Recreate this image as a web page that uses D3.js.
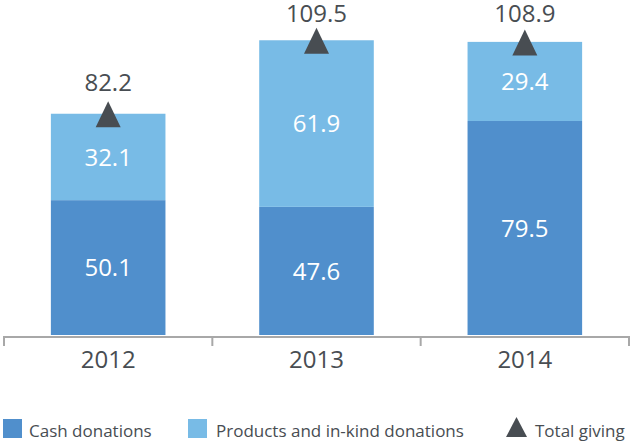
<!DOCTYPE html>
<html>
<head>
<meta charset="utf-8">
<script src="https://cdn.jsdelivr.net/npm/d3@7"></script>
<style>
  html, body { margin: 0; padding: 0; background: #fff; }
  svg { display: block; }
  text { font-family: "Open Sans", "Noto Sans", sans-serif; }
</style>
</head>
<body>
<svg id="chart" width="632" height="444"></svg>
<script>
const years = ["2012", "2013", "2014"];
const cashDonations = [50.1, 47.6, 79.5];
const productDonations = [32.1, 61.9, 29.4];
const totalGiving = [82.2, 109.5, 108.9];
const seriesNames = ["Cash donations", "Products and in-kind donations", "Total giving"];

const colors = { cash: "#508fcc", products: "#78bbe6", dark: "#484d52", axis: "#a8a8a8" };

const svg = d3.select("#chart");

const x = d3.scaleBand().domain(years).range([4, 629]).paddingInner(0.45).paddingOuter(0.225);
const y = d3.scaleLinear().domain([0, 120]).range([335, 12]);

const rows = years.map((yr, i) => ({ year: yr, cash: cashDonations[i], products: productDonations[i], total: totalGiving[i] }));
const stacked = d3.stack().keys(["cash", "products"])(rows);
const fillFor = { cash: colors.cash, products: colors.products };

// bars
const layers = svg.append("g").selectAll("g").data(stacked).join("g").attr("fill", d => fillFor[d.key]);
layers.selectAll("rect").data(d => d).join("rect")
  .attr("x", d => x(d.data.year))
  .attr("width", x.bandwidth())
  .attr("y", d => y(d[1]))
  .attr("height", d => y(d[0]) - y(d[1]));

// value labels inside segments
layers.selectAll("text").data(d => d.map(v => ({ v, key: d.key }))).join("text")
  .attr("x", d => x(d.v.data.year) + x.bandwidth() / 2)
  .attr("y", d => (y(d.v[0]) + y(d.v[1])) / 2)
  .attr("dy", "0.36em")
  .attr("text-anchor", "middle")
  .attr("fill", "#fff")
  .attr("font-size", 24)
  .text(d => d3.format(".1f")(d.v.data[d.key]));

// axis
const axisY = 337;
const step = x.step();
const axisG = svg.append("g");
axisG.append("line")
  .attr("x1", x.range()[0]).attr("x2", x.range()[1])
  .attr("y1", axisY).attr("y2", axisY)
  .attr("stroke", colors.axis).attr("stroke-width", 2);
const boundaries = d3.range(years.length + 1).map(i => x.range()[0] + i * step);
axisG.selectAll("line.tick").data(boundaries).join("line").attr("class", "tick")
  .attr("x1", d => d).attr("x2", d => d)
  .attr("y1", axisY - 1).attr("y2", axisY + 9)
  .attr("stroke", colors.axis).attr("stroke-width", 2);
axisG.selectAll("text").data(years).join("text")
  .attr("x", d => x(d) + x.bandwidth() / 2)
  .attr("y", 368)
  .attr("text-anchor", "middle")
  .attr("fill", colors.dark)
  .attr("font-size", 24)
  .text(d => d);

// total markers
const tri = (hw, up, down) => `M0,${-up}L${hw},${down}L${-hw},${down}Z`;
const totals = svg.append("g");
totals.selectAll("path").data(rows).join("path")
  .attr("transform", d => `translate(${x(d.year) + x.bandwidth() / 2},${y(d.total)})`)
  .attr("d", tri(12.5, 12.5, 13.5))
  .attr("fill", colors.dark);
totals.selectAll("text").data(rows).join("text")
  .attr("x", d => x(d.year) + x.bandwidth() / 2)
  .attr("y", d => Math.max(y(d.total) - 23, 22))
  .attr("text-anchor", "middle")
  .attr("fill", colors.dark)
  .attr("font-size", 24)
  .text(d => d3.format(".1f")(d.total));

// legend
const legend = svg.append("g");
const legendItems = [
  { name: seriesNames[0], type: "rect", color: colors.cash, x: 3, tx: 29 },
  { name: seriesNames[1], type: "rect", color: colors.products, x: 188, tx: 216 },
  { name: seriesNames[2], type: "tri", color: colors.dark, x: 506, tx: 535 }
];
legendItems.forEach(it => {
  if (it.type === "rect") {
    legend.append("rect").attr("x", it.x).attr("y", 419).attr("width", 19).attr("height", 19).attr("fill", it.color);
  } else {
    legend.append("path").attr("transform", `translate(${it.x + 10.5},427)`).attr("d", tri(10.5, 10, 10)).attr("fill", it.color);
  }
  legend.append("text").attr("x", it.tx).attr("y", 437).attr("fill", colors.dark).attr("font-size", 17).text(it.name);
});
</script>
</body>
</html>
